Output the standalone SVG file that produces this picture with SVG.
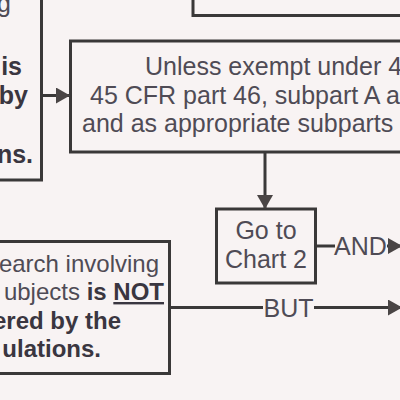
<svg xmlns="http://www.w3.org/2000/svg" width="400" height="400" viewBox="0 0 400 400">
<style>
.bg{fill:#f8f3f3}
.box{fill:none;stroke:#3a3838;stroke-width:3}
.ln{fill:none;stroke:#3a3838;stroke-width:3}
.t{font-family:"Liberation Sans",Arial,sans-serif;font-size:25px;fill:#4f4b55}
.s{font-size:24px}
.b{font-weight:bold;fill:#3a3640}
</style>
<defs>
<marker id="ah" viewBox="0 0 14 16" refX="13" refY="8" markerWidth="14" markerHeight="16" orient="auto" markerUnits="userSpaceOnUse">
<path d="M0,0 L14,8 L0,16 z" fill="#4a4545"/>
</marker>
</defs>
<rect class="bg" x="0" y="0" width="400" height="400"/>
<g id="node-topleft">
<rect class="box" x="-20" y="-20" width="61.5" height="200"/>
<text class="t" x="-3" y="12">g</text>
<text class="t b" x="22" y="75" text-anchor="end">is</text>
<text class="t b" x="28" y="103.5" text-anchor="end">by</text>
<text class="t b" x="33" y="163" text-anchor="end">ns.</text>
</g>
<g id="node-topright">
<rect class="box" x="193" y="-20" width="230" height="35.5"/>
</g>
<g id="node-middle">
<rect class="box" x="70.5" y="41" width="360" height="111"/>
<text class="t" x="145" y="75">Unless exempt under 4</text>
<text class="t" x="90" y="103.5">45 CFR part 46, subpart A a</text>
<text class="t" x="82" y="131.5">and as appropriate subparts</text>
</g>
<g id="node-goto">
<rect class="box" x="216.5" y="209" width="99" height="74"/>
<text class="t" x="266" y="239" text-anchor="middle">Go to</text>
<text class="t" x="266" y="268" text-anchor="middle">Chart 2</text>
</g>
<g id="node-bottomleft">
<rect class="box" x="-20" y="241.5" width="189.5" height="132"/>
<text class="t s" x="159" y="272" text-anchor="end">earch involving</text>
<text class="t s" x="164" y="300" text-anchor="end">ubjects <tspan class="b">is </tspan><tspan class="b" text-decoration="underline">NOT</tspan></text>
<text class="t s b" x="121" y="328.5" text-anchor="end">ered by the</text>
<text class="t s b" x="101" y="357" text-anchor="end">ulations.</text>
</g>
<g id="connectors">
<line class="ln" x1="41.5" y1="95.5" x2="69" y2="95.5" marker-end="url(#ah)"/>
<line class="ln" x1="265" y1="152" x2="265" y2="208" marker-end="url(#ah)"/>
<line class="ln" x1="315" y1="246" x2="335" y2="246"/>
<text class="t" x="360.5" y="255" text-anchor="middle">AND</text>
<line class="ln" x1="387" y1="246" x2="401" y2="246" marker-end="url(#ah)"/>
<line class="ln" x1="169.5" y1="307.5" x2="263" y2="307.5"/>
<text class="t" x="288.5" y="316.5" text-anchor="middle">BUT</text>
<line class="ln" x1="314" y1="307.5" x2="401" y2="307.5" marker-end="url(#ah)"/>
</g>
</svg>
